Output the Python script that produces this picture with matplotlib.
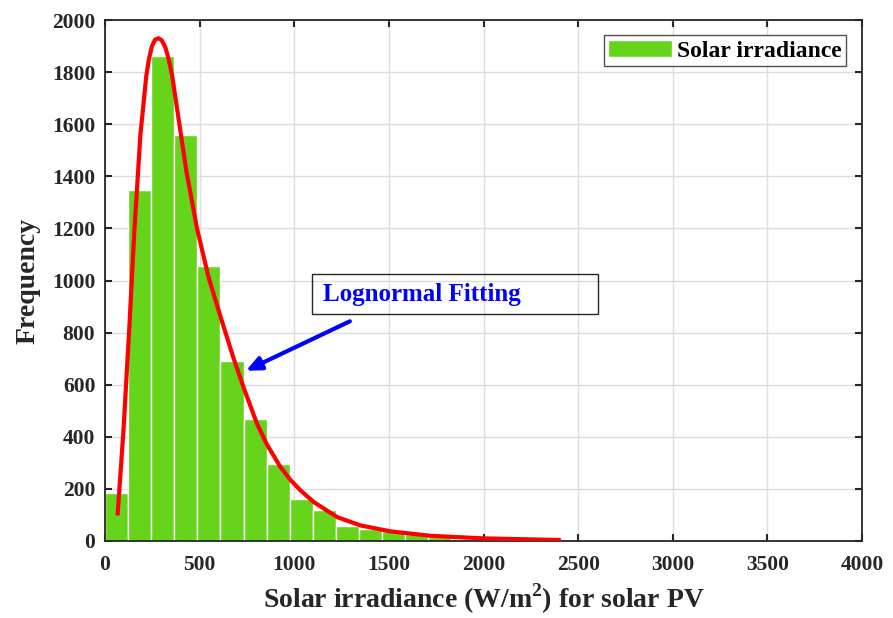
import numpy as np
import matplotlib
matplotlib.use("Agg")
import matplotlib.pyplot as plt

# histogram of solar irradiance
bin_width = 122
counts = [183, 1347, 1860, 1560, 1057, 690, 467, 295, 163, 120, 56, 45, 40, 28, 15]

# lognormal fit curve
fit_x = [67, 98, 128, 155, 187, 218, 232, 248, 265, 283, 300, 319, 336, 354, 393, 430,
         486, 548, 615, 680, 732, 803, 856, 926, 979, 1032, 1102, 1226, 1349, 1508,
         1719, 2001, 2397]
fit_y = [106, 430, 815, 1190, 1560, 1785, 1850, 1900, 1925, 1930, 1922, 1895, 1850, 1790, 1600, 1420,
         1200, 1010, 850, 700, 590, 450, 370, 285, 235, 195, 150, 92, 60, 37,
         20, 10, 4]

xticks = [0, 500, 1000, 1500, 2000, 2500, 3000, 3500, 4000]
yticks = [0, 200, 400, 600, 800, 1000, 1200, 1400, 1600, 1800, 2000]

plt.rcParams['font.family'] = ['Liberation Serif', 'DejaVu Serif']
plt.rcParams['font.weight'] = 'bold'
plt.rcParams['mathtext.fontset'] = 'custom'
plt.rcParams['mathtext.rm'] = 'Liberation Serif:bold'
plt.rcParams['mathtext.bf'] = 'Liberation Serif:bold'

fig = plt.figure(figsize=(8.93, 6.18), dpi=100)
ax = fig.add_axes([0.1176, 0.1246, 0.8477, 0.843])

edges = np.arange(len(counts)) * bin_width
ax.bar(edges, counts, width=bin_width, align='edge', color='#66D41A',
       edgecolor='white', linewidth=1.0, label='Solar irradiance', zorder=2)
ax.plot(fit_x, fit_y, color='red', linewidth=3, solid_joinstyle='round', zorder=3)

ax.set_xlim(0, 4000)
ax.set_ylim(0, 2000)
ax.set_xticks(xticks)
ax.set_yticks(yticks)
ax.tick_params(axis='both', direction='in', top=True, right=True, length=5, width=1.5,
               labelsize=15.5, colors='#262626')
ax.tick_params(axis='x', pad=10)
ax.tick_params(axis='y', pad=7)
for lab in ax.get_xticklabels() + ax.get_yticklabels():
    lab.set_fontweight('bold')
ax.grid(True, color='#dddddd', linewidth=1.0, zorder=0)
ax.set_axisbelow(True)
for sp in ax.spines.values():
    sp.set_linewidth(1.3)
    sp.set_color('#262626')

ax.set_xlabel('Solar irradiance (W/m$^{\\mathbf{2}}$) for solar PV', fontsize=20,
              fontweight='bold', color='#262626', labelpad=5)
ax.set_ylabel('Frequency', fontsize=20, fontweight='bold', color='#262626', labelpad=8)

leg = ax.legend(loc='upper right', fontsize=17, frameon=True, fancybox=False,
                edgecolor='#262626', handlelength=2.7, handleheight=0.75,
                handletextpad=0.2, borderpad=0.2, borderaxespad=0,
                bbox_to_anchor=(0.979, 0.971))
leg.get_frame().set_linewidth(1.0)
for t in leg.get_texts():
    t.set_fontweight('bold')

# annotation box and arrow
ax.add_patch(plt.Rectangle((1092, 873), 1515, 151, fill=False,
                           edgecolor='#262626', linewidth=1.0, zorder=4))
ax.text(1152, 947, 'Lognormal Fitting', color='blue', fontsize=18,
        fontweight='bold', va='center', ha='left', zorder=5)
ax.annotate('', xy=(731, 649), xytext=(1307, 848),
            arrowprops=dict(arrowstyle='-|>,head_length=0.9,head_width=0.4',
                            color='blue', lw=3), zorder=5)

fig.savefig('out.png', dpi=100)
